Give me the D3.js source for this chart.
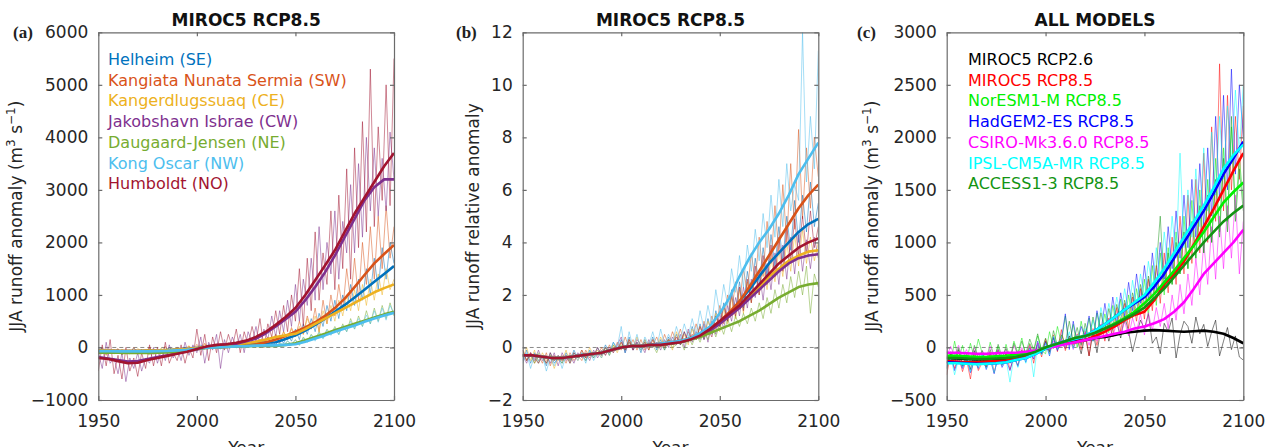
<!DOCTYPE html>
<html>
<head>
<meta charset="utf-8">
<script src="https://cdn.jsdelivr.net/npm/d3@7"></script>
<style>
  body { margin: 0; background: #fff; }
  svg { display: block; font-family: 'DejaVu Sans', sans-serif; }
  .axis text { font-family: 'DejaVu Sans', sans-serif; font-size: 17px; fill: #262626; }
  .axis .domain, .axis line { stroke: #6b6b6b; stroke-width: 1.2; }
  .title { font-weight: bold; font-size: 17px; fill: #111; }
  .letter { font-family: 'Liberation Serif', serif; font-weight: bold; font-size: 17px; fill: #222; }
  .ylabel, .xlabel { font-size: 17px; fill: #262626; }
  .legend { font-size: 16px; }
</style>
</head>
<body>
<svg id="chart" width="1267" height="447"></svg>
<script>
// years of the annual (thin) and smoothed (thick) curves
const rawYears = d3.range(1950, 2101, 2);
const meanYears = d3.range(1950, 2101, 5);
const yearTicks = [1950, 2000, 2050, 2100];

// ---- (a) MIROC5 RCP8.5, runoff anomaly (m3 s-1) ----
const helheimRaw = [-80,-20,-110,-40,-90, -30,-120,-60,-100,-10, -90,-40,-120,-20,-70, -100,-30,-80,0,-60, -20,-70,10,-50,20, -30,50,-20,60,0, 40,-30,70,10,50, -10,80,20,100,30, 110,40,150,60,120, 50,200,80,250,120, 350,150,450,250,550, 300,650,400,800,500, 900,550,1000,700,1200, 800,1300,900,1500,1000, 1700,1100,1900,1300,2000, 1600];
const kangiataRaw = [-100,0,-150,-40,-90, -20,-140,-60,-110,0, -120,-50,-90,10,-130, -40,-100,20,-80,-30, -90,0,-60,30,-50, 60,-40,80,-20,40, -30,70,0,90,-10, 80,0,120,20,100, 40,160,20,200,80, 250,80,300,150,380, 200,500,250,600,350, 750,300,900,450,1000, 600,1200,700,1500,900, 1700,900,2000,1200,2300, 1300,2500,1500,2700,1700, 2300];
const kangerRaw = [-50,-100,-20,-80,-40, -110,-30,-90,-50,-100, -20,-80,-50,-110,-30, -70,-10,-90,-40,-60, 0,-60,-20,30,-40, 20,-30,60,0,40, 10,60,-10,80,30, 100,40,90,20,130, 60,150,100,200,90, 250,120,300,180,350, 200,400,250,550,350, 600,300,700,450,800, 500,900,600,1000,700, 1100,700,1200,800,1300, 900,1400,1000,1500,1100, 1300];
const jakobRaw = [-100,-400,100,-300,-200, -500,-100,-650,-200,-400, -100,-450,-200,-300,0, -300,-50,-250,50,-200, 0,-250,100,-150,50, -100,200,-300,100,-50, 250,-400,150,-100,200, 0,250,-100,300,100, 400,0,350,150,600, 200,700,300,900,400, 1200,500,1300,800,1700, 900,2300,1100,2000,1400, 2600,1300,2400,1800,3100, 1800,3500,2100,4000,2600, 3800,2500,3600,2600,4100, 3200];
const daugaardRaw = [-110,-80,-130,-90,-120, -90,-130,-100,-120,-80, -120,-90,-110,-130,-100, -80,-110,-90,-70,-100, -60,-90,-40,-70,-30, -20,10,-30,20,-10, 20,-10,30,0,40, 10,50,-10,60,20, 40,0,70,20,50, 10,80,30,120,50, 150,40,200,100,250, 150,300,180,350,250, 400,250,450,300,550, 350,600,400,700,450, 750,500,800,550,850, 600];
const kongRaw = [-60,-90,-50,-80,-70, -80,-60,-90,-70,-80, -70,-90,-60,-80,-70, -60,-80,-50,-70,-60, -50,-70,-30,-50,-20, -10,10,-20,20,0, 10,-10,20,0,30, 0,40,10,50,20, 50,10,60,30,80, 30,90,50,130,60, 140,50,180,100,240, 120,280,160,330,230, 370,240,420,300,500, 350,550,400,620,450, 700,480,750,520,800, 650];
const humboldtRaw = [-450,50,-350,150,-500, -150,-600,0,-450,-200, -550,-100,-400,50,-350, 0,-350,100,-300,-100, -250,50,-300,0,-200, 350,-150,250,-250,200, -100,300,-50,250,0, 350,-100,300,50,400, 100,550,0,450,200, 700,250,800,300,1000, 500,1500,400,1700,700, 2200,900,1800,1200,2600, 1100,2900,1500,3400,1300, 3800,1900,4300,2200,5300, 2300,4200,2800,5000,2700, 5500];

const helheimMean = [-60,-60,-70,-70,-70,-60,-60,-50,-40,-30,-10,10,20,30,40,60,80,90,100,160,230,320,430,550,680,810,950,1100,1250,1400,1550];
const kangiataMean = [-60,-60,-70,-70,-70,-70,-60,-60,-50,-40,-20,0,0,10,20,40,60,100,150,220,300,380,480,600,750,930,1150,1380,1600,1780,1950];
const kangerMean = [-60,-60,-70,-70,-70,-60,-60,-50,-40,-30,-10,10,20,40,60,80,110,150,200,230,260,350,450,550,650,750,850,950,1050,1130,1200];
const jakobMean = [-180,-210,-240,-270,-260,-220,-180,-150,-110,-70,-40,10,40,60,70,120,170,270,400,540,680,900,1150,1430,1750,2100,2450,2800,3050,3200,3200];
const daugaardMean = [-100,-100,-100,-105,-105,-105,-100,-95,-85,-65,-30,-10,0,10,20,25,30,30,30,50,80,140,200,260,330,390,450,510,570,630,680];
const kongMean = [-70,-70,-75,-75,-75,-75,-70,-65,-55,-45,-25,-5,0,10,20,25,35,40,40,50,60,110,170,230,300,360,420,490,550,610,660];
const humboldtMean = [-200,-220,-260,-300,-290,-240,-200,-160,-120,-80,-30,20,50,60,90,130,200,300,430,580,750,1000,1280,1560,1850,2200,2550,2850,3150,3450,3700];

// ---- (b) MIROC5 RCP8.5, relative anomaly ----
const helheimRelRaw = [-0.5,-0.1,-0.6,-0.2,-0.5, -0.3,-0.7,-0.2,-0.6,-0.4, -0.6,-0.2,-0.5,-0.1,-0.4, -0.2,-0.5,-0.1,-0.4,0, -0.3,0.1,-0.2,0.2,-0.1, 0.3,-0.2,0.4,-0.1,0.2, -0.2,0.3,0,0.4,-0.1, 0.3,-0.1,0.4,0.1,0.5, 0.1,0.6,0.2,0.8,0.3, 0.9,0.3,1.1,0.5,1.4, 0.8,1.7,1.0,2.2,1.4, 2.5,1.5,2.9,2.0,3.4, 2.4,3.8,2.7,4.3,3.1, 4.6,3.3,5.0,3.7,5.6, 4.0,5.8,4.4,6.3,4.6, 5.5];
const kangiataRelRaw = [-0.1,-0.5,-0.2,-0.6,-0.3, -0.6,-0.2,-0.7,-0.3,-0.5, -0.3,-0.6,-0.2,-0.5,-0.3, -0.5,-0.1,-0.4,-0.2,-0.3, 0,-0.3,0.1,-0.2,0.2, -0.1,0.4,0,0.3,-0.1, 0.3,-0.1,0.2,0.1,0.4, 0,0.5,0.1,0.6,0.2, 0.7,0.2,0.6,0.3,0.9, 0.4,1.0,0.5,1.2,0.7, 1.6,0.9,2.0,1.3,2.5, 1.6,3.0,2.1,3.6,2.5, 4.2,2.7,4.8,3.2,5.4, 3.6,6.2,4.0,7.0,4.5, 8.3,4.9,7.6,5.3,8.0, 6.5];
const kangerRelRaw = [-0.4,0,-0.5,-0.1,-0.6, -0.2,-0.5,-0.3,-0.8,-0.4, -0.5,-0.1,-0.6,-0.3,-0.5, -0.1,-0.4,0,-0.3,-0.1, -0.4,0,-0.3,0.1,-0.2, 0.2,-0.1,0.3,0,0.4, 0,0.3,-0.1,0.3,0, 0.4,0,0.3,-0.1,0.6, 0.2,0.5,0.1,0.7,0.3, 0.8,0.4,1.0,0.6,1.3, 0.6,1.5,0.9,1.9,1.1, 2.2,1.3,2.5,1.7,2.8, 2.0,3.1,2.2,3.4,2.5, 3.7,2.7,4.0,2.9,4.3, 3.1,4.5,3.2,4.2,3.3, 4.0];
const jakobRelRaw = [-0.3,-0.6,-0.2,-0.5,-0.1, -0.5,-0.3,-0.6,-0.2,-0.7, -0.2,-0.5,-0.3,-0.6,-0.2, -0.4,-0.2,-0.5,-0.1,-0.4, -0.1,-0.3,0,-0.2,0.1, 0.4,-0.2,0.2,-0.1,0.3, 0.1,-0.2,0.3,0,0.2, -0.1,0.3,0,0.4,0.1, 0.5,0,0.7,0.2,0.6, 0.3,0.9,0.2,1.0,0.5, 1.3,0.7,1.6,1.0,1.9, 1.2,2.3,1.5,2.6,1.9, 2.9,1.8,3.2,2.2,3.6, 2.4,3.9,2.6,4.2,2.8, 4.3,2.9,4.1,3.0,4.2, 3.4];
const daugaardRelRaw = [-0.2,-0.5,-0.3,-0.6,-0.2, -0.4,-0.6,-0.3,-0.5,-0.4, -0.6,-0.3,-0.5,-0.2,-0.4, -0.3,-0.5,-0.2,-0.4,-0.2, -0.2,0,-0.3,0.1,-0.1, 0.1,-0.1,0.2,0,0.1, -0.1,0.2,0,0.1,-0.2, 0.2,-0.1,0.3,0,0.1, 0.3,-0.1,0.4,0.1,0.5, 0.2,0.6,0.3,0.8,0.4, 0.9,0.5,1.1,0.6,1.2, 0.8,1.3,0.9,1.5,1.0, 1.7,1.1,1.9,1.3,2.2, 1.5,2.4,1.7,2.7,1.9, 2.9,2.0,3.1,1.3,2.8, 2.3];
const kongRelRaw = [-0.6,-0.2,-0.8,-0.3,-0.6, -0.3,-0.9,-0.4,-0.7,-0.3, -0.8,-0.3,-0.6,-0.2,-0.5, -0.2,-0.6,-0.1,-0.5,-0.2, -0.4,0,-0.3,0.2,0, 0.8,-0.2,0.6,0,0.5, -0.1,0.4,0.1,0.6,0, 0.7,0.1,0.5,0.2,0.8, 0.3,0.9,0.4,1.1,0.5, 1.4,0.7,1.6,0.9,2.2, 1.3,2.4,1.6,3.0,2.1, 3.5,2.3,3.9,2.9,4.5, 3.3,5.1,3.8,5.8,4.2, 6.4,4.6,7.0,5.2,6.2, 5.6,12.0,6.3,8.8,6.8, 11.3];
const humboldtRelRaw = [-0.1,-0.5,-0.2,-0.4,-0.6, -0.3,-0.6,-0.2,-0.5,-0.3, -0.5,-0.3,-0.6,-0.2,-0.4, -0.1,-0.4,-0.2,-0.3,0, -0.3,0,-0.2,0,-0.1, 0.2,-0.1,0.3,-0.1,0.2, 0,0.2,-0.1,0.3,0, 0.2,0,0.3,0.1,0.4, 0.1,0.6,0.2,0.5,0.3, 0.8,0.3,0.7,0.4,1.2, 0.8,1.6,1.0,2.0,1.2, 2.3,1.4,2.6,1.7,3.1, 2.0,3.5,2.4,3.9,2.7, 4.2,2.9,4.6,3.3,4.9, 3.5,5.0,3.6,5.2,3.8, 4.6];

const helheimRelMean = [-0.3,-0.3,-0.35,-0.4,-0.4,-0.35,-0.3,-0.25,-0.2,-0.1,0,0.05,0.05,0.1,0.1,0.15,0.2,0.3,0.45,0.65,0.95,1.3,1.75,2.2,2.7,3.2,3.6,4.0,4.4,4.7,4.9];
const kangiataRelMean = [-0.3,-0.3,-0.35,-0.4,-0.4,-0.35,-0.3,-0.25,-0.2,-0.1,0,0.05,0.05,0.1,0.15,0.2,0.25,0.35,0.5,0.7,1.0,1.35,1.75,2.3,2.9,3.5,4.1,4.7,5.3,5.8,6.2];
const kangerRelMean = [-0.3,-0.3,-0.35,-0.4,-0.4,-0.35,-0.3,-0.25,-0.2,-0.1,0,0.05,0.05,0.1,0.1,0.15,0.2,0.3,0.45,0.65,0.95,1.2,1.55,1.9,2.3,2.7,3.0,3.3,3.5,3.65,3.7];
const jakobRelMean = [-0.3,-0.3,-0.35,-0.4,-0.4,-0.35,-0.3,-0.25,-0.2,-0.1,0,0.05,0.05,0.1,0.1,0.15,0.2,0.3,0.45,0.65,0.9,1.2,1.5,1.85,2.2,2.55,2.9,3.2,3.4,3.5,3.55];
const daugaardRelMean = [-0.3,-0.3,-0.35,-0.4,-0.4,-0.35,-0.3,-0.25,-0.2,-0.1,0,0.05,0.05,0.1,0.1,0.15,0.2,0.3,0.4,0.55,0.7,0.85,1.0,1.2,1.4,1.65,1.9,2.1,2.3,2.4,2.45];
const kongRelMean = [-0.3,-0.3,-0.35,-0.4,-0.4,-0.35,-0.3,-0.25,-0.2,-0.1,0,0.05,0.05,0.1,0.15,0.2,0.25,0.35,0.55,0.8,1.3,1.9,2.7,3.4,4.0,4.5,5.1,5.8,6.6,7.2,7.8];
const humboldtRelMean = [-0.3,-0.3,-0.35,-0.4,-0.4,-0.35,-0.3,-0.25,-0.2,-0.1,0,0.05,0.05,0.1,0.1,0.15,0.2,0.3,0.45,0.7,1.0,1.3,1.6,2.0,2.4,2.8,3.2,3.5,3.8,4.0,4.15];

// ---- (c) all models, runoff anomaly (m3 s-1) ----
const miroc26Raw = [-200,-50,-150,-20,-180, -80,-210,-30,-160,-90, -190,-60,-140,-20,-170, -50,-150,-70,-120,-40, -100,0,-80,30,-60, 60,-40,90,-20,50, -10,110,0,80,-60, 120,-80,150,-50,180, 220,60,180,240,90, 300,150,-40,120,260, 180,320,40,100,-60, 230,150,280,-100,120, 250,200,40,290,130, 220,10,150,260,-80, 60,190,-20,110,-90, -120];
const miroc85Raw = [-260,-60,-200,-80,-230, -110,-300,-50,-220,-140, -190,-40,-240,-90,-160, -50,-210,-100,-170,-20, -110,30,-150,40,-90, 80,-60,120,-40,170, -30,90,20,130,-20, 160,-80,180,20,220, 60,280,100,380,150, 420,180,480,250,560, 270,650,350,780,420, 900,520,1050,600,1250, 700,1450,800,1600,900, 1850,1000,2100,1200,2700, 1300,2400,1500,2200,1600, 2300];
const noresmRaw = [-40,-150,60,-120,20, -140,40,-100,80,-60, -130,50,-90,10,-150, 30,-100,60,-50,90, -80,40,-40,110,-30, -60,150,-10,200,40, 300,20,220,0,250, 70,280,60,330,120, 320,140,400,200,460, 230,500,280,560,350, 650,300,780,400,900, 500,950,600,1100,700, 1250,750,1400,850,1500, 900,1600,1000,1800,1100, 1900,1200,2100,1300,1800, 1400];
const hadgemRaw = [-180,-70,-220,-100,-200, -90,-240,-120,-200,-60, -210,-110,-250,-80,-190, -120,-220,-70,-180,-30, -140,-20,-110,60,-60, 50,-80,100,-30,80, 320,-20,250,40,200, 100,300,60,350,150, 420,180,480,230,520, 300,620,350,700,420, 780,450,900,550,1000, 650,1150,750,1300,850, 1450,950,1600,1050,1750, 1150,1900,1250,2200,1400, 2400,1500,2650,1650,2500, 2000];
const csiroRaw = [-90,10,-80,20,-100, -20,-110,0,-90,-30, -100,10,-80,-20,-110, -10,-90,20,-70,0, -80,20,-60,40,-30, 30,-40,60,-10,80, 0,90,-20,110,30, 140,20,160,60,190, 80,210,100,240,120, 250,110,280,150,320, 120,330,160,380,200, 420,180,500,260,600, 320,700,400,850,500, 1000,600,1150,650,1250, 750,1350,850,1450,700, 1200];
const ipslRaw = [-200,-80,-260,-110,-180, -70,-230,-120,-190,-60, -200,-100,-240,-90,-170, -110,-330,-80,-190,-40, -150,-10,-280,30,-70, 40,-70,110,-20,60, 10,150,-10,120,40, 180,70,260,100,380, 200,420,250,480,300, 560,330,640,400,700, 480,820,560,950,650, 1100,750,1250,850,1850, 950,1500,1050,1700,1150, 1900,1300,2050,1450,2200, 1600,2300,1750,2450,1850, 2500];
const accessRaw = [-150,-40,-120,0,-170, -60,-140,20,-110,-30, -160,-20,-130,30,-90, -10,-140,40,-70,60, -60,80,-20,130,-30, 90,-40,160,20,120, 40,250,60,190,20, 230,80,290,110,330, 150,370,200,410,260, 450,280,520,330,600, 400,680,450,760,1250, 550,900,600,1000,700, 1100,750,1200,850,1350, 900,1450,1000,1600,1050, 1800,1100,2200,1200,1700, 1300];

const miroc26Mean = [-100,-105,-110,-115,-115,-110,-105,-95,-80,-50,-10,20,40,60,70,90,100,120,140,150,160,165,160,155,150,155,160,150,130,90,40];
const miroc85Mean = [-130,-135,-140,-140,-135,-130,-125,-110,-90,-50,-10,20,40,50,70,110,150,200,260,310,340,450,600,700,820,980,1150,1320,1500,1680,1850];
const noresmMean = [-80,-80,-85,-90,-90,-85,-80,-70,-60,-30,0,30,60,90,110,140,180,230,280,340,420,510,620,730,850,970,1100,1240,1380,1480,1570];
const hadgemMean = [-140,-145,-150,-155,-155,-150,-140,-120,-100,-60,-10,30,60,80,110,160,220,290,360,420,480,580,700,850,1000,1150,1300,1470,1650,1800,1960];
const csiroMean = [-50,-50,-55,-60,-60,-55,-50,-50,-40,-30,-10,10,30,50,70,90,110,130,150,180,200,230,270,340,430,560,700,800,900,1000,1120];
const ipslMean = [-150,-150,-155,-160,-155,-150,-140,-120,-100,-60,-10,30,60,80,110,160,220,290,360,430,500,620,750,900,1050,1200,1350,1520,1700,1830,1930];
const accessMean = [-100,-100,-105,-110,-110,-105,-100,-90,-70,-40,0,30,60,90,110,140,180,220,270,320,380,470,560,670,780,890,1000,1100,1200,1280,1350];

const basinNames = ['Helheim (SE)', 'Kangiata Nunata Sermia (SW)', 'Kangerdlugssuaq (CE)', 'Jakobshavn Isbrae (CW)', 'Daugaard-Jensen (NE)', 'Kong Oscar (NW)', 'Humboldt (NO)'];
const basinColors = ['#0072BD', '#D95319', '#EDB120', '#7E2F8E', '#77AC30', '#4DBEEE', '#A2142F'];
const modelNames = ['MIROC5 RCP2.6', 'MIROC5 RCP8.5', 'NorESM1-M RCP8.5', 'HadGEM2-ES RCP8.5', 'CSIRO-Mk3.6.0 RCP8.5', 'IPSL-CM5A-MR RCP8.5', 'ACCESS1-3 RCP8.5'];
const modelColors = ['#000000', '#FF0000', '#00F000', '#0000FF', '#FF00FF', '#00FFFF', '#139413'];

const svg = d3.select('#chart');

const panels = [
  {
    letter: '(a)', letterX: 13, title: 'MIROC5 RCP8.5', left: 98.3, right: 394,
    domainY: [-1000, 6000], ticksY: [-1000, 0, 1000, 2000, 3000, 4000, 5000, 6000],
    yLabel: 'anomaly', labelX: 22, legend: basinNames, legendX: 108, colors: basinColors,
    raw: [helheimRaw, kangiataRaw, kangerRaw, jakobRaw, daugaardRaw, kongRaw, humboldtRaw],
    mean: [helheimMean, kangiataMean, kangerMean, jakobMean, daugaardMean, kongMean, humboldtMean]
  },
  {
    letter: '(b)', letterX: 456, title: 'MIROC5 RCP8.5', left: 522.7, right: 818.3,
    domainY: [-2, 12], ticksY: [-2, 0, 2, 4, 6, 8, 10, 12],
    yLabel: 'relative', labelX: 479, legend: null, colors: basinColors,
    raw: [helheimRelRaw, kangiataRelRaw, kangerRelRaw, jakobRelRaw, daugaardRelRaw, kongRelRaw, humboldtRelRaw],
    mean: [helheimRelMean, kangiataRelMean, kangerRelMean, jakobRelMean, daugaardRelMean, kongRelMean, humboldtRelMean]
  },
  {
    letter: '(c)', letterX: 857, title: 'ALL MODELS', left: 946.7, right: 1243.3,
    domainY: [-500, 3000], ticksY: [-500, 0, 500, 1000, 1500, 2000, 2500, 3000],
    yLabel: 'anomaly', labelX: 878, legend: modelNames, legendX: 968, colors: modelColors,
    raw: [miroc26Raw, miroc85Raw, noresmRaw, hadgemRaw, csiroRaw, ipslRaw, accessRaw],
    mean: [miroc26Mean, miroc85Mean, noresmMean, hadgemMean, csiroMean, ipslMean, accessMean]
  }
];

const plotTop = 32.3, plotBottom = 400;

panels.forEach((p, k) => {
  const x = d3.scaleLinear().domain([1950, 2100]).range([p.left, p.right]);
  const y = d3.scaleLinear().domain(p.domainY).range([plotBottom, plotTop]);
  const g = svg.append('g');
  const clipId = 'clip' + k;

  svg.append('clipPath').attr('id', clipId)
    .append('rect')
      .attr('x', p.left).attr('y', plotTop)
      .attr('width', p.right - p.left).attr('height', plotBottom - plotTop);

  // dashed zero reference
  g.append('line')
    .attr('x1', p.left).attr('x2', p.right)
    .attr('y1', y(0)).attr('y2', y(0))
    .attr('stroke', '#8a8a8a')
    .attr('stroke-width', 1)
    .attr('stroke-dasharray', '4,3');

  const plot = g.append('g').attr('clip-path', `url(#${clipId})`);
  const rawLine = d3.line().x((d, i) => x(rawYears[i])).y(d => y(d));
  const meanLine = d3.line().x((d, i) => x(meanYears[i])).y(d => y(d));

  p.raw.forEach((s, i) => {
    plot.append('path')
      .attr('d', rawLine(s))
      .attr('fill', 'none')
      .attr('stroke', p.colors[i])
      .attr('stroke-opacity', 0.5)
      .attr('stroke-width', 1);
  });

  p.mean.forEach((s, i) => {
    plot.append('path')
      .attr('d', meanLine(s))
      .attr('fill', 'none')
      .attr('stroke', p.colors[i])
      .attr('stroke-width', 2.6)
      .attr('stroke-linejoin', 'round');
  });

  // box with inward ticks on all four sides
  g.append('g').attr('class', 'axis')
    .attr('transform', `translate(0,${plotBottom})`)
    .call(d3.axisBottom(x).tickValues(yearTicks).tickFormat(d3.format('d'))
      .tickSize(-4).tickSizeOuter(0).tickPadding(15));
  g.append('g').attr('class', 'axis')
    .attr('transform', `translate(0,${plotTop})`)
    .call(d3.axisTop(x).tickValues(yearTicks).tickFormat('')
      .tickSize(-4).tickSizeOuter(0));
  g.append('g').attr('class', 'axis')
    .attr('transform', `translate(${p.left},0)`)
    .call(d3.axisLeft(y).tickValues(p.ticksY).tickFormat(d3.format('d'))
      .tickSize(-4).tickSizeOuter(0).tickPadding(10));
  g.append('g').attr('class', 'axis')
    .attr('transform', `translate(${p.right},0)`)
    .call(d3.axisRight(y).tickValues(p.ticksY).tickFormat('')
      .tickSize(-4).tickSizeOuter(0));

  const cx = (p.left + p.right) / 2;

  g.append('text').attr('class', 'title')
    .attr('x', cx).attr('y', 26)
    .attr('text-anchor', 'middle')
    .text(p.title);

  g.append('text').attr('class', 'letter')
    .attr('x', p.letterX).attr('y', 38)
    .text(p.letter);

  // the x label sits mostly below the page edge, as in the original figure
  g.append('text').attr('class', 'xlabel')
    .attr('x', cx).attr('y', 454)
    .attr('text-anchor', 'middle')
    .text('Year');

  const yl = g.append('text').attr('class', 'ylabel')
    .attr('transform', `translate(${p.labelX},${(plotTop + plotBottom) / 2}) rotate(-90)`)
    .attr('text-anchor', 'middle');
  if (p.yLabel === 'relative') {
    yl.text('JJA runoff relative anomaly');
  } else {
    yl.append('tspan').text('JJA runoff anomaly (m');
    yl.append('tspan').attr('dy', -7).attr('font-size', 12).text('3');
    yl.append('tspan').attr('dy', 7).text(' s');
    yl.append('tspan').attr('dy', -7).attr('font-size', 12).text('\u22121');
    yl.append('tspan').attr('dy', 7).text(')');
  }

  if (p.legend) {
    g.selectAll('.legend-' + k)
      .data(p.legend)
      .enter()
      .append('text')
        .attr('class', 'legend')
        .attr('x', p.legendX)
        .attr('y', (d, i) => 65 + i * 20.7)
        .attr('fill', (d, i) => p.colors[i])
        .text(d => d);
  }
});
</script>
</body>
</html>
